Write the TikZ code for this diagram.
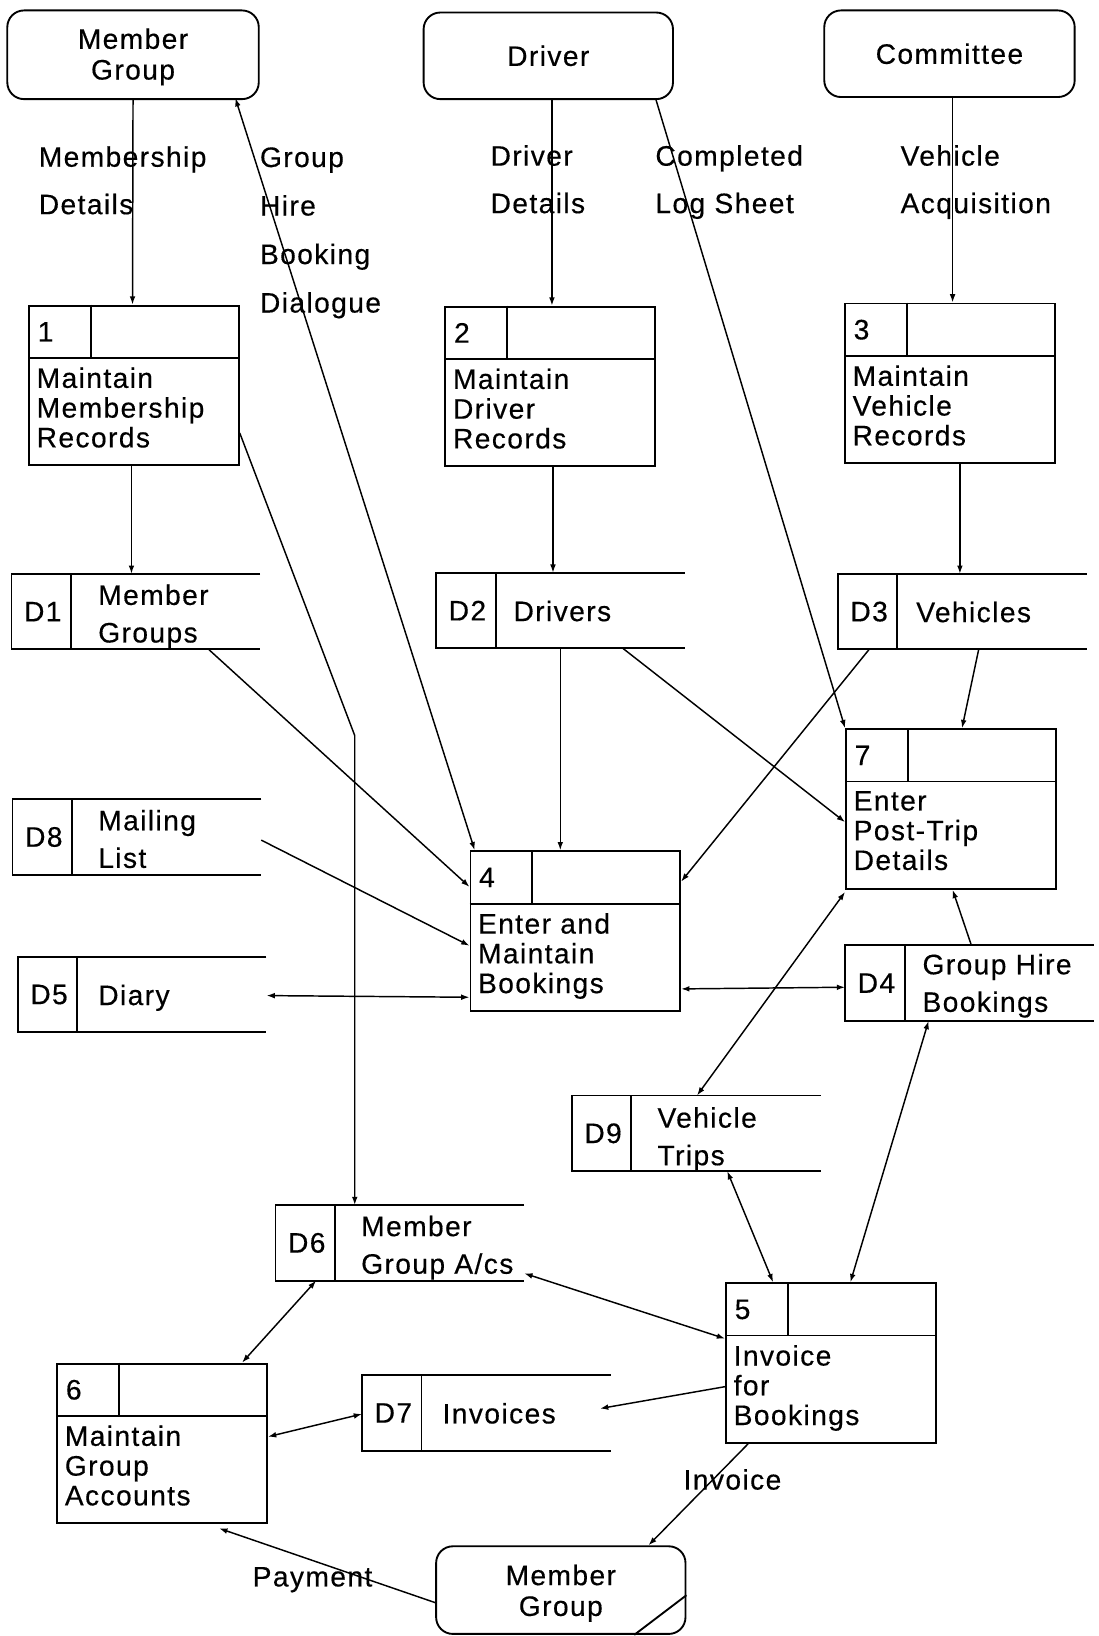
\documentclass[tikz,border=0pt]{standalone}
\usepackage{fontspec}
\setmainfont{Liberation Sans}[LetterSpace=5, FakeBold=0.4]
\usetikzlibrary{calc,arrows.meta}

% process box: name, x, y (top-left), number, text
\newcommand\procnode[5]{%
  \node[proc] (#1) at (#2,#3) {};
  \draw[boxline] ($(#1.north west)+(0,51)$) -- ($(#1.north east)+(0,51)$);
  \draw[boxline] ($(#1.north west)+(60,0)$) -- ($(#1.north west)+(60,51)$);
  \node[anchor=west] (#1-num) at ($(#1.north west)+(9,26)$) {#4};
  \node[anchor=north west, align=left] (#1-txt) at ($(#1.north west)+(8,60)$) {#5};
}
% data store (open at the right): name, x, y (top-left), id, label offset, label top offset, label
\newcommand\storenode[7]{%
  \node[storebox] (#1) at (#2,#3) {};
  \draw[boxline] (#1.north east) -- (#1.north west) -- (#1.south west) -- (#1.south east);
  \draw[boxline] ($(#1.north west)+(57,0)$) -- ($(#1.south west)+(57,0)$);
  \node (#1-id) at ($(#1.west)+(30,0)$) {#4};
  \node[anchor=north west, align=left, font=\fontsize{27}{36}\selectfont] (#1-txt) at ($(#1.north west)+(#5,#6)$) {#7};
}

\begin{document}
\begin{tikzpicture}[x=1pt, y=-1pt,
  every node/.style={inner sep=0pt, font=\fontsize{27}{28.5}\selectfont},
  boxline/.style={line width=1.8pt},
  proc/.style={draw, boxline, minimum width=201pt, minimum height=153pt, anchor=north west},
  storebox/.style={minimum width=238pt, minimum height=72pt, anchor=north west},
  ent/.style={draw, boxline, rounded corners=16pt},
  enttxt/.style={align=center, font=\fontsize{27}{29.5}\selectfont},
  tip/.tip={Latex[length=8pt,width=5.5pt]},
  flow/.style={line width=1.4pt, -tip},
  bflow/.style={line width=1.4pt, tip-tip},
  lbl/.style={align=left, anchor=north west, font=\fontsize{27}{45.5}\selectfont},
]
\useasboundingbox (0,0) rectangle (1053,1568);

% external entities
\node[ent, minimum width=241pt, minimum height=85pt] (mg1) at (127.5,52.5) {};
\node[enttxt] (mg1-txt) at ($(mg1.center)+(0,2)$) {Member\\Group};
\node[ent, minimum width=239pt, minimum height=83pt] (drv) at (525.5,53.5) {};
\node[enttxt] (drv-txt) at (drv.center) {Driver};
\node[ent, minimum width=240pt, minimum height=83pt] (cmt) at (910,51.5) {};
\node[enttxt] (cmt-txt) at (cmt.center) {Committee};
\node[ent, minimum width=239pt, minimum height=84pt] (mg2) at (537.5,1524) {};
\node[enttxt] (mg2-txt) at ($(mg2.center)+(0,3)$) {Member\\Group};
\draw[boxline] ($(mg2.south east)+(-50,0)$) -- ($(mg2.south east)+(0,-38)$);

% processes
\procnode{p1}{27}{292}{1}{Maintain\\Membership\\Records}
\procnode{p2}{426}{293}{2}{Maintain\\Driver\\Records}
\procnode{p3}{809}{290}{3}{Maintain\\Vehicle\\Records}
\procnode{p4}{450}{815}{4}{Enter and\\Maintain\\Bookings}
\procnode{p7}{810}{698}{7}{Enter\\Post-Trip\\Details}
\procnode{p5}{695}{1229}{5}{Invoice\\for\\Bookings}
\procnode{p6}{54}{1306}{6}{Maintain\\Group\\Accounts}

% data stores
\storenode{d1}{11}{550}{D1}{83}{10}{Member\\Groups}
\storenode{d2}{418}{549}{D2}{74}{26.5}{Drivers}
\storenode{d3}{803}{550}{D3}{75}{26.5}{Vehicles}
\storenode{d8}{12}{766}{D8}{82}{10}{Mailing\\List}
\storenode{d5}{17}{917}{D5}{77}{26.5}{Diary}
\storenode{d4}{810}{906}{D4}{74}{8}{Group Hire\\Bookings}
\storenode{d9}{548}{1050}{D9}{82}{11}{Vehicle\\Trips}
\storenode{d6}{264}{1155}{D6}{82}{10}{Member\\Group A/cs}
\storenode{d7}{347}{1318}{D7}{77}{26.5}{Invoices}

% data flows
\draw[flow] (mg1.south) -- ($(p1.north west)+(100,0)$);
\draw[bflow] ($(mg1.south)+(98,-2)$) -- ($(p4.north west)+(5,0)$);
\draw[flow] ($(drv.south)+(3.5,0)$) -- ($(p2.north west)+(103,0)$);
\draw[flow] ($(drv.south)+(103,-1)$) -- (p7.north west);
\draw[flow] ($(cmt.south)+(3,0)$) -- ($(p3.north west)+(104,0)$);
\draw[flow] ($(p1.south west)+(99,0)$) -- ($(d1.north west)+(115,0)$);
\draw[flow] ($(p1.north east)+(0,123)$) -- ($(d6.north west)+(76,-450)$) -- ($(d6.north west)+(76,0)$);
\draw[flow] ($(d1.south west)+(189,0)$) -- ($(p4.north west)+(0,35)$);
\draw[flow] ($(d8.east)+(0,3)$) -- ($(p4.west)+(0,14)$);
\draw[bflow] ($(d5.east)+(0,1)$) -- ($(p4.south west)+(0,-14)$);
\draw[flow] ($(p2.south west)+(104,0)$) -- ($(d2.north west)+(112,0)$);
\draw[flow] ($(d2.south west)+(119,0)$) -- ($(p4.north west)+(87,0)$);
\draw[flow] ($(d2.south west)+(179,0)$) -- ($(p7.north west)+(0,90)$);
\draw[flow] ($(p3.south west)+(111,0)$) -- ($(d3.north west)+(117,0)$);
\draw[flow] ($(d3.south west)+(30,0)$) -- ($(p4.north east)+(0,30)$);
\draw[flow] ($(d3.south west)+(135,0)$) -- ($(p7.north west)+(112,0)$);
\draw[bflow] ($(p4.south east)+(0,-22)$) -- ($(d4.west)+(0,4)$);
\draw[flow] ($(d4.north west)+(121,0)$) -- ($(p7.south west)+(103,0)$);
\draw[bflow] ($(p7.south west)+(0,2)$) -- ($(d9.north west)+(120,0)$);
\draw[bflow] ($(d4.south west)+(80,0)$) -- ($(p5.north west)+(120,0)$);
\draw[bflow] ($(d9.south west)+(149,0)$) -- ($(p5.north west)+(46,0)$);
\draw[bflow] ($(d6.south east)+(0,-7)$) -- ($(p5.north west)+(0,54)$);
\draw[bflow] ($(d6.south west)+(39,0)$) -- ($(p6.north west)+(178,0)$);
\draw[bflow] ($(p6.north east)+(0,71)$) -- ($(d7.west)+(0,1)$);
\draw[flow] ($(p5.north west)+(0,100)$) -- ($(d7.north west)+(228,32)$);
\draw[flow] ($(p5.south west)+(22,0)$) -- ($(mg2.north)+(84,0)$);
\draw[flow] ($(mg2.west)+(0,12)$) -- ($(p6.south west)+(156,4)$);

% flow labels
\node[lbl] (l-memdet) at (37,140) {Membership\\Details};
\node[lbl, font=\fontsize{27}{46.5}\selectfont] (l-ghbd) at (249,141) {Group\\Hire\\Booking\\Dialogue};
\node[lbl] (l-drvdet) at (470,139) {Driver\\Details};
\node[lbl] (l-log) at (628,139) {Completed\\Log Sheet};
\node[lbl] (l-veh) at (863,139) {Vehicle\\Acquisition};
\node[anchor=west] (l-inv) at (655,1418) {Invoice};
\node[anchor=west] (l-pay) at (242,1514) {Payment};
\end{tikzpicture}
\end{document}
